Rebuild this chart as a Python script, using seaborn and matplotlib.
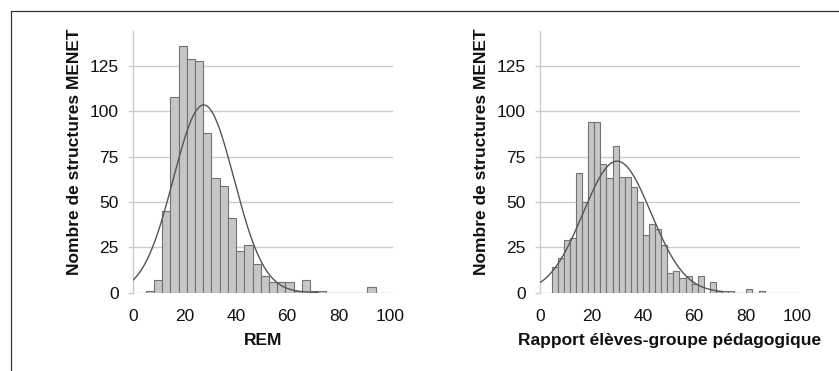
import numpy as np
import pandas as pd
import seaborn as sns
import matplotlib.pyplot as plt
from matplotlib.lines import Line2D

# bin range and counts
rem_range = (5.0, 94.4)
rem_counts = [1, 7, 45, 108, 136, 129, 128, 88, 63, 59, 41, 23, 26, 16,
              9, 6, 6, 6, 1, 7, 1, 1, 0, 0, 0, 0, 0, 3]

ratio_range = (4.55, 87.4)
ratio_counts = [14, 19, 29, 30, 66, 50, 94, 94, 71, 63, 81, 64, 64, 58, 50,
                32, 38, 35, 26, 11, 12, 8, 9, 5, 9, 0, 6, 1, 1, 1, 0, 0, 2, 0, 1]

# fitted normal curves (mean, sd, peak height, x range end)
rem_fit = (27.5, 11.8, 103.5, 72)
ratio_fit = (30.0, 13.2, 72.5, 71)

y_label = "Nombre de structures MENET"
x_labels = ["REM", "Rapport élèves-groupe pédagogique"]
y_ticks = [0, 25, 50, 75, 100, 125]
x_ticks = [0, 20, 40, 60, 80, 100]

sns.set_theme(style="white")
plt.rcParams["font.family"] = ["Liberation Sans", "DejaVu Sans"]

fig = plt.figure(figsize=(8.39, 3.71), dpi=100)
ax1 = fig.add_axes([0.1585, 0.2113, 0.3100, 0.7038])
ax2 = fig.add_axes([0.6436, 0.2113, 0.3100, 0.7038])

grid_c = "#cccccc"
txt_c = "#111111"
fs = 12.5
panels = [
    (ax1, rem_range, rem_counts, rem_fit, x_labels[0]),
    (ax2, ratio_range, ratio_counts, ratio_fit, x_labels[1]),
]
for ax, brange, counts, fit, xl in panels:
    nb = len(counts)
    edges = np.linspace(brange[0], brange[1], nb + 1)
    centers = (edges[:-1] + edges[1:]) / 2
    df = pd.DataFrame({"x": centers, "n": counts})
    sns.histplot(data=df, x="x", weights="n", bins=nb, binrange=brange, ax=ax,
                 color="#c6c6c6", edgecolor="#737373", linewidth=0.8,
                 alpha=1, zorder=2)
    mu, sd, peak, xend = fit
    xs = np.linspace(0, xend, 200)
    ys = peak * np.exp(-(xs - mu) ** 2 / (2 * sd ** 2))
    sns.lineplot(x=xs, y=ys, ax=ax, color="#555555", linewidth=1.0, zorder=3)

    ax.set_xlim(0, 101.2)
    ax.set_ylim(0, 144)
    ax.set_yticks(y_ticks)
    ax.set_xticks(x_ticks)
    ax.grid(axis="y", color=grid_c, linewidth=1.0, zorder=0)
    ax.set_axisbelow(True)
    for s in ["top", "right", "bottom"]:
        ax.spines[s].set_visible(False)
    ax.spines["left"].set_color(grid_c)
    ax.spines["left"].set_linewidth(1.0)
    ax.tick_params(axis="y", left=True, length=3.6, width=1.0, color=grid_c,
                   labelsize=fs, labelcolor=txt_c, pad=6.5)
    ax.tick_params(axis="x", bottom=False, labelsize=fs,
                   labelcolor=txt_c, pad=5.5)
    ax.set_ylabel(y_label, fontsize=fs, fontweight="bold", color=txt_c)
    ax.yaxis.set_label_coords(-0.195, 0.539)
    ax.set_xlabel(xl, fontsize=fs, fontweight="bold", color=txt_c,
                  labelpad=7)

# frame lines at the top and left of the picture
fig.add_artist(Line2D([11 / 839, 1], [1 - 11 / 371, 1 - 11 / 371],
                      color="#333333", linewidth=0.9))
fig.add_artist(Line2D([11 / 839, 11 / 839], [0, 1 - 11 / 371],
                      color="#333333", linewidth=0.9))

fig.savefig("out.png", dpi=100)
